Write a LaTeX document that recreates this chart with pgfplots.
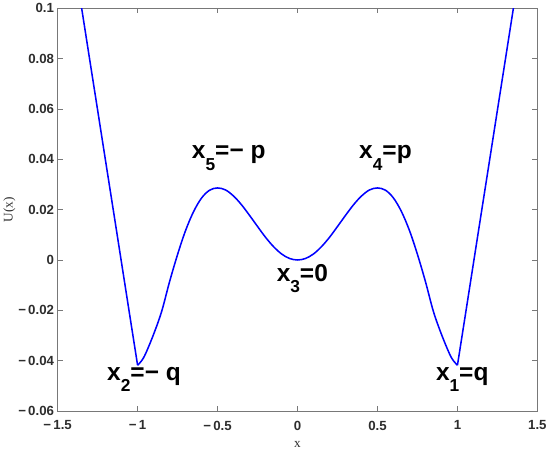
\documentclass[border=0pt]{standalone}
\usepackage{fontspec}
\setmainfont{Liberation Sans}
\newfontfamily\seriffont{Liberation Serif}
\usepackage{pgfplots}
\pgfplotsset{compat=1.18}
\definecolor{axgray}{RGB}{120,120,120}
\definecolor{txtgray}{RGB}{45,45,45}

% annotation: x_{sub}rest
\newcommand{\lab}[2]{x\raisebox{-11bp}{\fontsize{17}{17}\selectfont #1}#2}

\begin{document}
\begin{tikzpicture}
\begin{axis}[
  scale only axis,
  width=469bp, height=394bp,
  xmin=-1.5, xmax=1.5, ymin=-0.06, ymax=0.1,
  axis line style={axgray, line width=0.6bp},
  tick style={axgray, line width=0.6bp},
  tick align=inside, major tick length=5bp,
  xtick={-1.5,-1,-0.5,0,0.5,1,1.5},
  xticklabels={−\,1.5, −\,1, −\,0.5, 0, 0.5, 1, 1.5},
  ytick={-0.06,-0.04,-0.02,0,0.02,0.04,0.06,0.08,0.1},
  yticklabels={−\,0.06, −\,0.04, −\,0.02, 0, 0.02, 0.04, 0.06, 0.08, 0.1},
  ticklabel style={font=\fontsize{13}{13}\selectfont\bfseries, text=txtgray},
  xticklabel style={yshift=-6bp},
  xlabel={x}, ylabel={U(x)},
  label style={font=\seriffont\fontsize{13}{13}\selectfont, text=txtgray},
  xlabel style={yshift=-4bp},
  ylabel style={yshift=-4bp},
]
% outer branches
\addplot[blue, line width=1.5bp] coordinates {
  (-1.36,0.1040) (-1.35,0.1000) (-1.30,0.0797) (-1.25,0.0595) (-1.20,0.0392)
  (-1.15,0.0190) (-1.10,-0.0013) (-1.05,-0.0216) (-1.00,-0.0418)
};
\addplot[blue, line width=1.5bp] coordinates {
  (1.00,-0.0418) (1.05,-0.0216) (1.10,-0.0013)
  (1.15,0.0190) (1.20,0.0392) (1.25,0.0595) (1.30,0.0797) (1.35,0.1000)
  (1.36,0.1040)
};
% inner part
\addplot[blue, line width=1.5bp, smooth, tension=0.55] coordinates {
  (-1.00,-0.0418)
  (-0.975,-0.0400) (-0.95,-0.0372) (-0.90,-0.0295) (-0.85,-0.0205)
  (-0.80,-0.0086) (-0.75,0.0022) (-0.70,0.0117) (-0.65,0.0192)
  (-0.60,0.0246) (-0.55,0.0277) (-0.50,0.0286) (-0.45,0.0278)
  (-0.40,0.0254) (-0.35,0.0219) (-0.30,0.0177) (-0.25,0.0133)
  (-0.20,0.0090) (-0.15,0.0053) (-0.10,0.0024) (-0.05,0.0006) (0,0)
  (0.05,0.0006) (0.10,0.0024) (0.15,0.0053) (0.20,0.0090) (0.25,0.0133)
  (0.30,0.0177) (0.35,0.0219) (0.40,0.0254) (0.45,0.0278) (0.50,0.0286)
  (0.55,0.0277) (0.60,0.0246) (0.65,0.0192) (0.70,0.0117) (0.75,0.0022)
  (0.80,-0.0086) (0.85,-0.0205) (0.90,-0.0295) (0.95,-0.0372)
  (0.975,-0.0400) (1.00,-0.0418)
};
\begin{scope}[every node/.style={font=\fontsize{24}{24}\selectfont\bfseries, text=black}]
\node at (axis cs:-0.43,0.0405) {\lab{5}{=− p}};
\node at (axis cs:0.55,0.0405) {\lab{4}{=p}};
\node at (axis cs:0.03,-0.0075) {\lab{3}{=0}};
\node at (axis cs:-0.96,-0.0475) {\lab{2}{=− q}};
\node at (axis cs:1.03,-0.0475) {\lab{1}{=q}};
\end{scope}
\end{axis}
\end{tikzpicture}
\end{document}
